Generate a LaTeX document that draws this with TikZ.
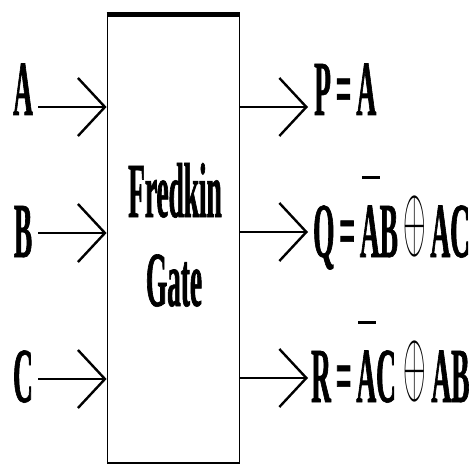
\documentclass[tikz,border=0pt]{standalone}
\usepackage{fontspec}
\setmainfont{Liberation Serif}[FakeStretch=0.35,BoldFeatures={FakeBold=0.8}]
\usetikzlibrary{arrows.meta}
\newcommand\ovbar[1]{\makebox[0pt][l]{\hspace{2pt}\raisebox{78pt}{\rule{18pt}{3pt}}}#1}
\newcommand\xor{\raisebox{8pt}{\scalebox{2.9}[9.2]{\fontsize{10}{12}\selectfont$\oplus$}}}
\tikzset{
  lbl/.style={inner sep=0pt, anchor=base, font=\fontsize{78}{80}\selectfont\bfseries},
  olbl/.style={inner sep=0pt, anchor=base west, font=\fontsize{78}{80}\selectfont\bfseries},
  gatebox/.style={draw, line width=1.8pt, minimum width=132pt, minimum height=448pt, inner sep=0pt},
  wire/.style={line width=2pt, -{Straight Barb[length=27pt,width=58pt,line width=2.4pt]}}
}
\begin{document}
\begin{tikzpicture}[x=1pt,y=-1pt]
\useasboundingbox (0,0) rectangle (476,465);
\node[gatebox] (gate) at (173.5,239) {};
\draw[line width=5pt] (gate.north west) -- (gate.north east);
\node[lbl, font=\fontsize{78}{80}\selectfont\bfseries] (t1) at (175,217) {Fredkin};
\node[lbl, font=\fontsize{78}{80}\selectfont\bfseries] (t2) at (174,306) {Gate};
% inputs
\node[lbl] (la) at (23,115) {A};
\node[lbl] (lb) at (23,257) {B};
\node[lbl] (lc) at (23,402) {C};
\coordinate (ia) at (38,107);
\coordinate (ib) at (38,233);
\coordinate (ic) at (38,379);
\draw[wire] (ia) -- (ia -| gate.west);
\draw[wire] (ib) -- (ib -| gate.west);
\draw[wire] (ic) -- (ic -| gate.west);
% outputs
\node[olbl] (op) at (314,115) {P\hspace{5pt}=\hspace{5pt}A};
\node[olbl] (oq) at (313,257) {Q\hspace{5pt}=\hspace{5pt}\ovbar{A}B\hspace{6pt}\xor\hspace{4pt}AC};
\node[olbl] (or) at (311,402) {R\hspace{5pt}=\hspace{5pt}\ovbar{A}C\hspace{8pt}\xor\hspace{5pt}AB};
\coordinate (pa) at (308,107);
\coordinate (pb) at (308,232);
\coordinate (pc) at (308,378);
\draw[wire] (pa -| gate.east) -- (pa);
\draw[wire] (pb -| gate.east) -- (pb);
\draw[wire] (pc -| gate.east) -- (pc);
\end{tikzpicture}
\end{document}
